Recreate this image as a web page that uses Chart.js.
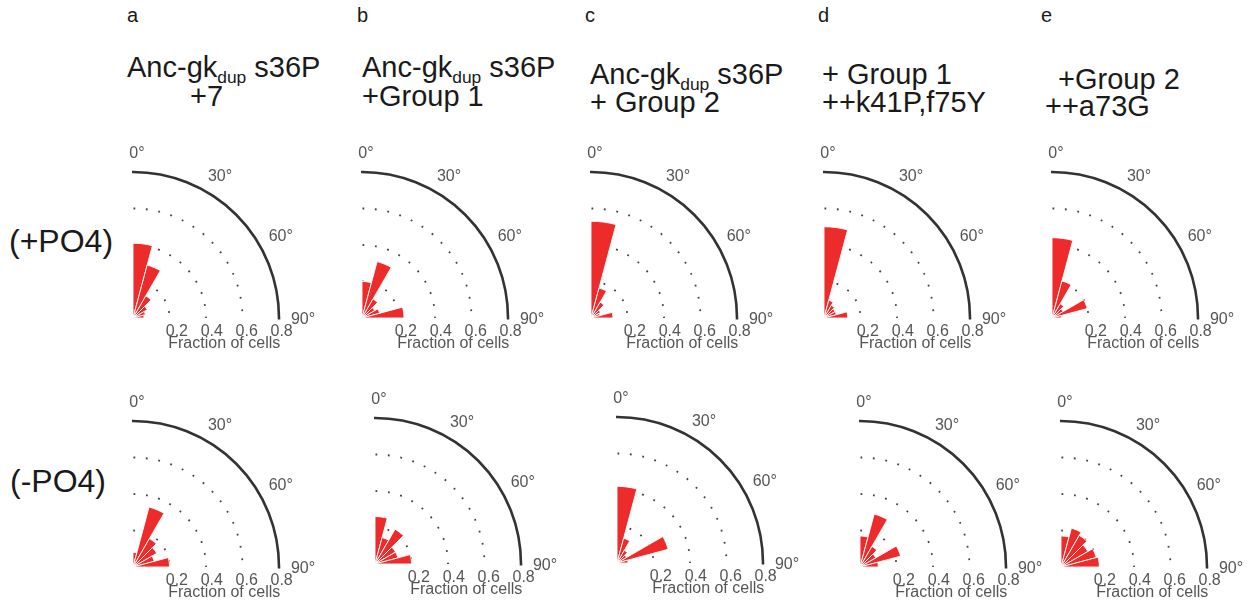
<!DOCTYPE html>
<html><head><meta charset="utf-8">
<script src="https://cdn.jsdelivr.net/npm/chart.js@4.4.1/dist/chart.umd.min.js"></script>
<style>
html,body{margin:0;padding:0;background:#fff;overflow:hidden}
#stage{position:relative;width:1253px;height:605px;overflow:hidden;font-family:"Liberation Sans",Arial,sans-serif;color:#1a1a1a}
.txt{position:absolute;white-space:nowrap;line-height:1}
.sub{font-size:0.6em;position:relative;top:0.3em}
canvas{position:absolute}
</style></head><body><div id="stage"></div>
<script>
// ---- data ----
const binLabels = ['0-15°','15-30°','30-45°','45-60°','60-75°','75-90°'];
const radialTicks = [0.2, 0.4, 0.6, 0.8];
const angleTickLabels = ['0°','30°','60°','90°'];
const angleTickDegrees = [0, 30, 60, 90];
const panelLetters = ['a','b','c','d','e'];
const titleLine1 = ['Anc-gk|dup| s36P','Anc-gk|dup| s36P','Anc-gk|dup| s36P','+ Group 1',' +Group 2'];
const titleLine2 = ['+7','+Group 1','+ Group 2','++k41P,f75Y','++a73G'];
const rowLabels = ['(+PO4)','(-PO4)'];
const axisTitle = 'Fraction of cells';

const plusPO4_a  = [0.41, 0.30, 0.14, 0.09, 0.07, 0.06];
const plusPO4_b  = [0.20, 0.32, 0.12, 0.08, 0.10, 0.23];
const plusPO4_c  = [0.53, 0.17, 0.10, 0.06, 0.05, 0.12];
const plusPO4_d  = [0.50, 0.10, 0.08, 0.07, 0.07, 0.13];
const plusPO4_e  = [0.44, 0.21, 0.09, 0.07, 0.20, 0.05];
const minusPO4_a = [0.08, 0.34, 0.18, 0.15, 0.12, 0.20];
const minusPO4_b = [0.26, 0.15, 0.22, 0.13, 0.13, 0.20];
const minusPO4_c = [0.42, 0.14, 0.08, 0.06, 0.29, 0.06];
const minusPO4_d = [0.17, 0.30, 0.13, 0.10, 0.23, 0.10];
const minusPO4_e = [0.17, 0.22, 0.20, 0.17, 0.20, 0.21];

const rows = [
  [plusPO4_a, plusPO4_b, plusPO4_c, plusPO4_d, plusPO4_e],
  [minusPO4_a, minusPO4_b, minusPO4_c, minusPO4_d, minusPO4_e]
];

// ---- layout ----
const RADIUS = 146, MARGIN = 60;
const centers = [
  [[133,318],[362,318],[591,318],[824,318],[1052,318]],
  [[133,567],[375,564],[617,563],[860,567],[1061,567]]
];
const letterPos = [[127,22],[357,22],[585,22],[818,22],[1041,22]];
const title1Pos = [[127,78],[362,78],[590,85],[822,85],[1050,90]];
const title2Pos = [[190,107],[362,107],[590,113],[822,113],[1045,117]];
const rowLabelPos = [[9,252],[10,492]];
const TITLE_SIZE = 29, ROW_SIZE = 32, LETTER_SIZE = 20;
const RED = '#ee2b2b';
const TEXT_GREY = '#555';

const stage = document.getElementById('stage');
function addText(str, x, baseline, size, color) {
  const d = document.createElement('div');
  d.className = 'txt';
  d.style.fontSize = size + 'px';
  d.style.left = x + 'px';
  d.style.top = (baseline - 0.8465 * size) + 'px';
  if (color) d.style.color = color;
  const parts = str.split('|');
  parts.forEach((p, i) => {
    const s = document.createElement('span');
    if (i % 2 === 1) s.className = 'sub';
    s.textContent = p;
    d.appendChild(s);
  });
  stage.appendChild(d);
  return d;
}
panelLetters.forEach((l, i) => addText(l, letterPos[i][0], letterPos[i][1], LETTER_SIZE));
titleLine1.forEach((t, i) => addText(t.replace(/^ /, '\u00a0'), title1Pos[i][0], title1Pos[i][1], TITLE_SIZE));
titleLine2.forEach((t, i) => addText(t, title2Pos[i][0], title2Pos[i][1], TITLE_SIZE));
rowLabels.forEach((t, i) => addText(t, rowLabelPos[i][0], rowLabelPos[i][1], ROW_SIZE));

const quadrantPlugin = {
  id: 'quadrant',
  beforeDraw(chart) {
    const s = chart.scales.r, ctx = chart.ctx;
    ctx.save();
    ctx.beginPath();
    ctx.rect(s.xCenter - 1, 0, chart.width, s.yCenter + 1.5);
    ctx.clip();
  },
  afterDraw(chart) {
    const s = chart.scales.r, ctx = chart.ctx;
    ctx.restore();
    ctx.save();
    ctx.fillStyle = TEXT_GREY;
    ctx.font = '16px "Liberation Sans", Arial, sans-serif';
    ctx.textAlign = 'center';
    ctx.textBaseline = 'middle';
    const rOut = s.getDistanceFromCenterForValue(s.max) + 20;
    angleTickDegrees.forEach((deg, i) => {
      const a = deg * Math.PI / 180;
      ctx.fillText(angleTickLabels[i], s.xCenter + rOut * Math.sin(a) + 4, s.yCenter - rOut * Math.cos(a) + 2);
    });
    ctx.textBaseline = 'alphabetic';
    radialTicks.forEach(v => {
      ctx.fillText(v.toFixed(1), s.xCenter + s.getDistanceFromCenterForValue(v) + 9 - 8 * v, s.yCenter + 18);
    });
    ctx.fillText(axisTitle, s.xCenter + s.getDistanceFromCenterForValue(0.5), s.yCenter + 29.5);
    ctx.restore();
  }
};

const isOuter = v => Math.abs(v - 0.8) < 1e-6;

rows.forEach((row, ri) => {
  row.forEach((values, ci) => {
    const [cx, cy] = centers[ri][ci];
    const size = 2 * (RADIUS + MARGIN);
    const cv = document.createElement('canvas');
    cv.width = size; cv.height = size;
    cv.style.width = size + 'px'; cv.style.height = size + 'px';
    cv.style.left = (cx - RADIUS - MARGIN) + 'px';
    cv.style.top = (cy - RADIUS - MARGIN) + 'px';
    stage.appendChild(cv);
    new Chart(cv, {
      type: 'polarArea',
      data: {
        labels: binLabels,
        datasets: [{
          data: values,
          angle: 15,
          backgroundColor: RED,
          borderColor: 'rgba(255,255,255,0.9)',
          borderWidth: 1
        }]
      },
      options: {
        responsive: false,
        animation: false,
        events: [],
        layout: { padding: MARGIN },
        plugins: { legend: { display: false }, tooltip: { enabled: false } },
        scales: {
          r: {
            min: 0, max: 0.8, startAngle: 0,
            ticks: { display: false, stepSize: 0.2 },
            pointLabels: { display: false },
            angleLines: { display: false },
            grid: {
              circular: true,
              color: c => isOuter(c.tick.value) ? '#333' : '#444',
              lineWidth: c => isOuter(c.tick.value) ? 2.6 : 1.8
            },
            border: {
              dash: c => isOuter(c.tick.value) ? [] : [1.8, 10.7],
              dashOffset: c => {
                if (isOuter(c.tick.value)) return 0;
                const r = c.scale.getDistanceFromCenterForValue(c.tick.value);
                const P = 12.5;
                return P - ((1.5 * Math.PI * r) % P);
              }
            }
          }
        }
      },
      plugins: [quadrantPlugin]
    });
  });
});
</script></body></html>
